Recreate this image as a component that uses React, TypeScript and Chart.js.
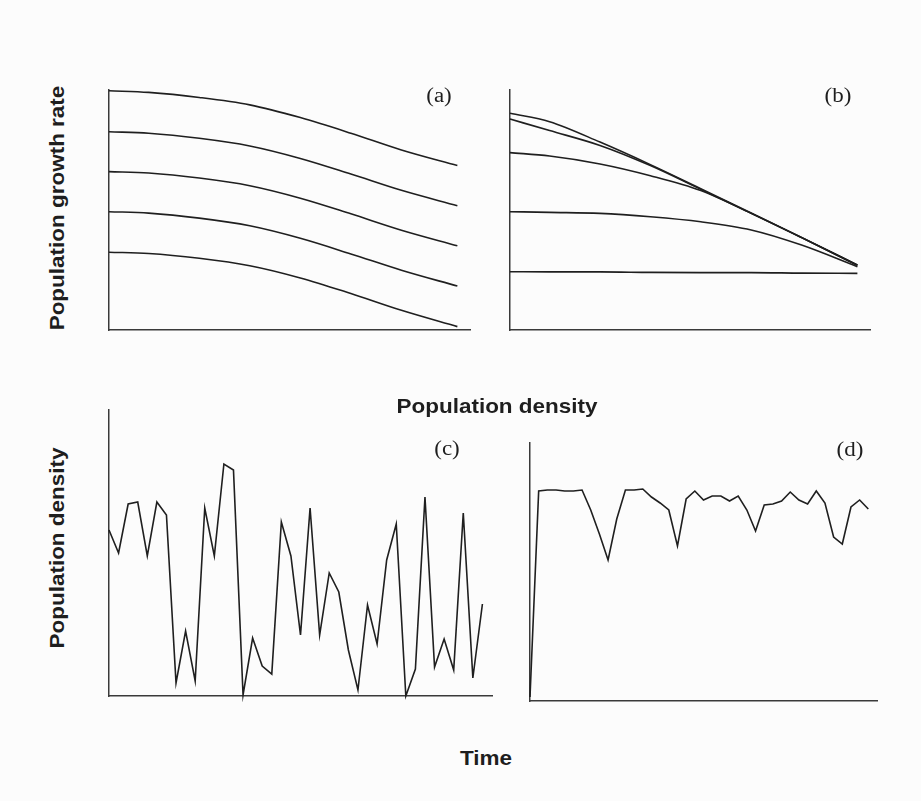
import React, { useEffect, useRef } from "react";
import { Chart, registerables } from "chart.js";

Chart.register(...registerables);

// ---------- data ----------
// (a) & (b): population growth rate vs population density (sampled density positions)
const densityX = [0, 11, 25, 39, 53, 67, 81, 96.5];

const growthA1 = [99.7, 99.0, 96.9, 93.8, 88.5, 82.0, 75.0, 68.5];
const growthA2 = [82.6, 82.0, 79.9, 76.7, 71.5, 65.0, 58.2, 51.8];
const growthA3 = [66.0, 65.4, 63.3, 60.1, 54.9, 48.4, 41.6, 35.1];
const growthA4 = [49.3, 48.7, 46.6, 43.4, 38.2, 31.7, 24.9, 18.3];
const growthA5 = [32.4, 31.9, 29.9, 26.8, 21.7, 15.2, 8.2, 1.4];

const growthB1 = [90.3, 86.8, 78.3, 68.9, 58.9, 48.8, 38.6, 27.1];
const growthB2 = [87.9, 83.1, 76.9, 68.5, 58.6, 48.6, 38.5, 27.0];
const growthB3 = [73.9, 72.5, 69.2, 64.3, 58.1, 48.6, 38.5, 27.0];
const growthB4 = [49.3, 49.0, 48.6, 47.2, 45.1, 41.7, 35.4, 26.4];
const growthB5 = [24.3, 24.2, 24.2, 24.0, 23.9, 23.9, 23.7, 23.6];

// (c) & (d): population density vs time
const densityC = [
  166, 143, 192, 194, 140, 194, 181, 13, 65, 15,
  188, 140, 232, 226, 1, 58, 30, 22, 174, 140,
  61, 188, 61, 123, 104, 46, 6, 91, 52, 136,
  172, 0, 27, 199, 29, 57, 26, 183, 18, 92,
];
const densityD = [
  4, 210, 211, 211, 210, 210, 211, 191, 167, 141,
  182, 211, 211, 212, 204, 198, 191, 155, 202, 210,
  201, 205, 205, 200, 205, 191, 170, 196, 197, 200,
  209, 201, 197, 210, 198, 164, 157, 194, 201, 192,
];
const timeSteps = densityC.map((_, i) => i);

const panelLabels = ["(a)", "(b)", "(c)", "(d)"];
const yTitleTop = "Population growth rate";
const xTitleTop = "Population density";
const yTitleBottom = "Population density";
const xTitleBottom = "Time";

// ---------- styles ----------
const LINE = "#1f1f1f";
const AXIS = "#3a3a3a";
const TEXT = "#1e1e1e";
const PAD = 6;

type PanelProps = {
  left: number;
  top: number;
  width: number;
  height: number;
  xMax: number;
  yMax: number;
  xs: number[];
  series: number[][];
  smooth: boolean;
};

function Panel({ left, top, width, height, xMax, yMax, xs, series, smooth }: PanelProps) {
  const ref = useRef<HTMLCanvasElement>(null);
  useEffect(() => {
    const axis = (max: number) => ({
      type: "linear",
      min: 0,
      max,
      grid: { display: false, drawTicks: false, tickLength: 0 },
      ticks: { display: false, padding: 0 },
      border: { display: true, color: AXIS, width: 1.5 },
    });
    const chart = new Chart(ref.current as HTMLCanvasElement, {
      type: "line",
      data: {
        datasets: series.map((s) => ({
          data: s.map((y, i) => ({ x: xs[i], y })),
          borderColor: LINE,
          borderWidth: 1.6,
          pointRadius: 0,
          fill: false,
          tension: 0,
          cubicInterpolationMode: smooth ? "monotone" : "default",
          clip: false,
        })),
      },
      options: {
        responsive: false,
        animation: false,
        devicePixelRatio: 1,
        events: [],
        layout: { padding: PAD },
        plugins: { legend: { display: false }, tooltip: { enabled: false } },
        scales: { x: axis(xMax), y: axis(yMax) },
      } as any,
    });
    return () => chart.destroy();
  }, []);
  return (
    <canvas
      ref={ref}
      width={width}
      height={height}
      style={{ position: "absolute", left, top, width, height }}
    />
  );
}

const sansBold: React.CSSProperties = {
  position: "absolute",
  fontFamily: '"Liberation Sans", Arial, sans-serif',
  fontWeight: "bold",
  fontSize: 21,
  lineHeight: "21px",
  color: TEXT,
  whiteSpace: "nowrap",
};

const serif: React.CSSProperties = {
  position: "absolute",
  fontFamily: '"Liberation Serif", "Times New Roman", serif',
  fontSize: 20,
  lineHeight: "20px",
  color: TEXT,
  whiteSpace: "nowrap",
};

function HText({ text, cx, top }: { text: string; cx: number; top: number }) {
  return (
    <div style={{ ...sansBold, left: cx, top, transform: "translateX(-50%) scaleX(1.07)" }}>{text}</div>
  );
}

function VText({ text, cx, cy }: { text: string; cx: number; cy: number }) {
  return (
    <div
      style={{
        ...sansBold,
        left: cx,
        top: cy,
        transform: "translate(-50%, -50%) rotate(-90deg) scaleX(1.07)",
      }}
    >
      {text}
    </div>
  );
}

function Tag({ text, cx, top }: { text: string; cx: number; top: number }) {
  return (
    <div style={{ ...serif, left: cx, top, transform: "translateX(-50%) scaleX(1.15)" }}>{text}</div>
  );
}

export default function App() {
  return (
    <div
      style={{
        position: "absolute",
        left: 0,
        top: 0,
        width: 921,
        height: 801,
        background: "#fcfcfc",
        overflow: "hidden",
      }}
    >
      <Panel
        left={109 - PAD}
        top={90 - PAD}
        width={361 + 2 * PAD}
        height={240 + 2 * PAD}
        xMax={100}
        yMax={100}
        xs={densityX}
        series={[growthA1, growthA2, growthA3, growthA4, growthA5]}
        smooth
      />
      <Panel
        left={510 - PAD}
        top={90 - PAD}
        width={360 + 2 * PAD}
        height={240 + 2 * PAD}
        xMax={100}
        yMax={100}
        xs={densityX}
        series={[growthB1, growthB2, growthB3, growthB4, growthB5]}
        smooth
      />
      <Panel
        left={109 - PAD}
        top={410 - PAD}
        width={383 + 2 * PAD}
        height={286 + 2 * PAD}
        xMax={40}
        yMax={286}
        xs={timeSteps}
        series={[densityC]}
        smooth={false}
      />
      <Panel
        left={530 - PAD}
        top={443 - PAD}
        width={347 + 2 * PAD}
        height={258 + 2 * PAD}
        xMax={40}
        yMax={258}
        xs={timeSteps}
        series={[densityD]}
        smooth={false}
      />

      <VText text={yTitleTop} cx={56} cy={208} />
      <HText text={xTitleTop} cx={497} top={395} />
      <VText text={yTitleBottom} cx={56} cy={548} />
      <HText text={xTitleBottom} cx={486} top={747} />

      <Tag text={panelLabels[0]} cx={439} top={85} />
      <Tag text={panelLabels[1]} cx={838} top={85} />
      <Tag text={panelLabels[2]} cx={447} top={438} />
      <Tag text={panelLabels[3]} cx={850} top={439} />
    </div>
  );
}
